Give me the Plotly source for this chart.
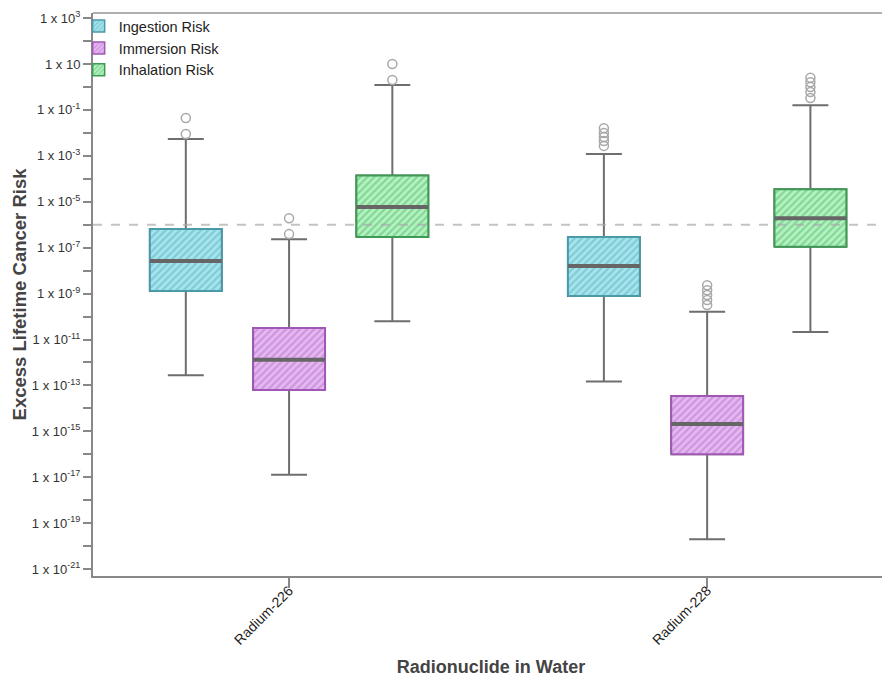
import plotly.graph_objects as go

# ---------------- data ----------------
categories = ["Radium-226", "Radium-228"]
series_names = ["Ingestion Risk", "Immersion Risk", "Inhalation Risk"]

ingestion_lower = [2.8e-13, 1.5e-13]
ingestion_q1 = [1.3e-9, 7.8e-10]
ingestion_median = [2.6e-8, 1.6e-8]
ingestion_q3 = [6.5e-7, 2.9e-7]
ingestion_upper = [5.4e-3, 1.2e-3]
ingestion_outliers = [[4.4e-2, 8.9e-3], [1.6e-2, 9.8e-3, 6.6e-3, 4.4e-3, 2.7e-3]]

immersion_lower = [1.3e-17, 2.0e-20]
immersion_q1 = [6.3e-14, 1.0e-16]
immersion_median = [1.3e-12, 2.1e-15]
immersion_q3 = [3.2e-11, 3.5e-14]
immersion_upper = [2.3e-7, 1.6e-10]
immersion_outliers = [[1.9e-6, 3.9e-7], [2.3e-9, 1.4e-9, 8.7e-10, 5.2e-10, 3.2e-10]]

inhalation_lower = [6.3e-11, 2.1e-11]
inhalation_q1 = [2.9e-7, 1.1e-7]
inhalation_median = [5.9e-6, 1.9e-6]
inhalation_q3 = [1.4e-4, 3.5e-5]
inhalation_upper = [1.2, 0.16]
inhalation_outliers = [[10.0, 2.0], [2.5, 1.6, 1.0, 0.6, 0.33]]

reference_level = 1e-6

label_exponents = list(range(3, -22, -2))
minor_exponents = list(range(2, -21, -2))

# ---------------- styling ----------------
series_style = [
    dict(bg="#a8e4ec", fg="#55b4c4", line="#4a9aaa"),
    dict(bg="#e6b8f2", fg="#b474c8", line="#a058b4"),
    dict(bg="#b4f2c0", fg="#52bc6e", line="#3f9a55"),
]
offsets = [-0.247, 0.0, 0.247]
box_width = 0.172
whisker_color = "#6e6e6e"
median_color = "#666666"

data = [
    dict(lower=ingestion_lower, q1=ingestion_q1, med=ingestion_median, q3=ingestion_q3,
         upper=ingestion_upper, out=ingestion_outliers),
    dict(lower=immersion_lower, q1=immersion_q1, med=immersion_median, q3=immersion_q3,
         upper=immersion_upper, out=immersion_outliers),
    dict(lower=inhalation_lower, q1=inhalation_q1, med=inhalation_median, q3=inhalation_q3,
         upper=inhalation_upper, out=inhalation_outliers),
]

fig = go.Figure()
hw = box_width / 2

# whiskers (box layer, beneath)
for s, (name, d, off) in enumerate(zip(series_names, data, offsets)):
    xs = [i + off for i in range(len(categories))]
    fig.add_trace(go.Box(
        x=xs, q1=d["q1"], median=d["med"], q3=d["q3"],
        lowerfence=d["lower"], upperfence=d["upper"],
        width=box_width, whiskerwidth=0.5,
        line=dict(color=whisker_color, width=2),
        fillcolor="rgba(0,0,0,0)", showlegend=False, hoverinfo="skip",
    ))

# hatched rectangles, medians, outliers
for s, (name, d, off) in enumerate(zip(series_names, data, offsets)):
    st = series_style[s]
    rx, ry, mx, my, ox, oy = [], [], [], [], [], []
    for i in range(len(categories)):
        c = i + off
        rx += [c - hw, c + hw, c + hw, c - hw, c - hw, None]
        ry += [d["q1"][i], d["q1"][i], d["q3"][i], d["q3"][i], d["q1"][i], None]
        mx += [c - hw, c + hw, None]
        my += [d["med"][i], d["med"][i], None]
        for v in d["out"][i]:
            ox.append(c)
            oy.append(v)
    fig.add_trace(go.Scatter(
        x=rx, y=ry, mode="lines", fill="toself", fillcolor=st["bg"],
        fillpattern=dict(shape="/", fgcolor=st["fg"], bgcolor=st["bg"], size=5, solidity=0.45),
        line=dict(color=st["line"], width=2), showlegend=False, hoverinfo="skip",
    ))
    fig.add_trace(go.Scatter(
        x=mx, y=my, mode="lines", line=dict(color=median_color, width=4),
        showlegend=False, hoverinfo="skip",
    ))
    fig.add_trace(go.Scatter(
        x=ox, y=oy, mode="markers",
        marker=dict(symbol="circle-open", size=9, color="#a8a8a8", line=dict(width=1.5)),
        showlegend=False,
    ))

# legend entries
for s, name in enumerate(series_names):
    st = series_style[s]
    fig.add_trace(go.Bar(
        x=[None], y=[None], name=name,
        marker=dict(color=st["bg"], line=dict(color=st["line"], width=1.5),
                    pattern=dict(shape="/", fgcolor=st["fg"], bgcolor=st["bg"], size=4, solidity=0.45)),
    ))

fig.add_hline(y=reference_level, line=dict(color="rgba(170,170,170,0.7)", width=2, dash="dash"),
              layer="above")
fig.add_shape(type="line", xref="paper", yref="paper", x0=0, x1=1, y0=1, y1=1,
              line=dict(color="#b0b0b0", width=2))

tickvals = [10.0 ** e for e in label_exponents]
ticktext = ["1 x 10" if e == 1 else f"1 x 10<sup>{e}</sup>" for e in label_exponents]
minor_vals = [10.0 ** e for e in minor_exponents]

# page body has an 8px margin: size the figure so the plot lands where the reference has it
fig.update_layout(
    width=882, height=669,
    margin=dict(l=85, r=1, t=5, b=101),
    plot_bgcolor="white", paper_bgcolor="white",
    font=dict(family="Liberation Sans, Arial, sans-serif", color="#333333"),
    barmode="overlay",
    showlegend=True,
    legend=dict(x=-0.018, y=1.005, xanchor="left", yanchor="top", bgcolor="rgba(0,0,0,0)",
                font=dict(size=14.5, color="#222222"), itemwidth=30, tracegroupgap=0),
    xaxis=dict(
        range=[-0.469, 1.435], tickmode="array", tickvals=list(range(len(categories))),
        ticktext=categories, tickangle=-45, ticks="outside", ticklen=10, tickwidth=1.5,
        tickcolor="#888888", showline=True, linecolor="#888888", linewidth=2,
        showgrid=False, zeroline=False, tickfont=dict(size=14, color="#222222"),
        ticklabelstandoff=-11,
        title=dict(text="<b>Radionuclide in Water</b>", font=dict(size=18, color="#444444"), standoff=16),
    ),
    yaxis=dict(
        type="log", range=[-21.30, 3.22], tickmode="array", tickvals=tickvals, ticktext=ticktext,
        ticks="outside", ticklen=8, tickwidth=1.5, tickcolor="#888888",
        minor=dict(tickmode="array", tickvals=minor_vals, ticks="outside", ticklen=8,
                   tickwidth=1.5, tickcolor="#888888", showgrid=False),
        showline=True, linecolor="#888888", linewidth=2, showgrid=False, zeroline=False,
        tickfont=dict(size=13, color="#333333"), automargin=True,
        title=dict(text="<b>Excess Lifetime Cancer Risk</b>", font=dict(size=18.5, color="#444444"), standoff=0),
    ),
)

fig.write_html("out.html")
